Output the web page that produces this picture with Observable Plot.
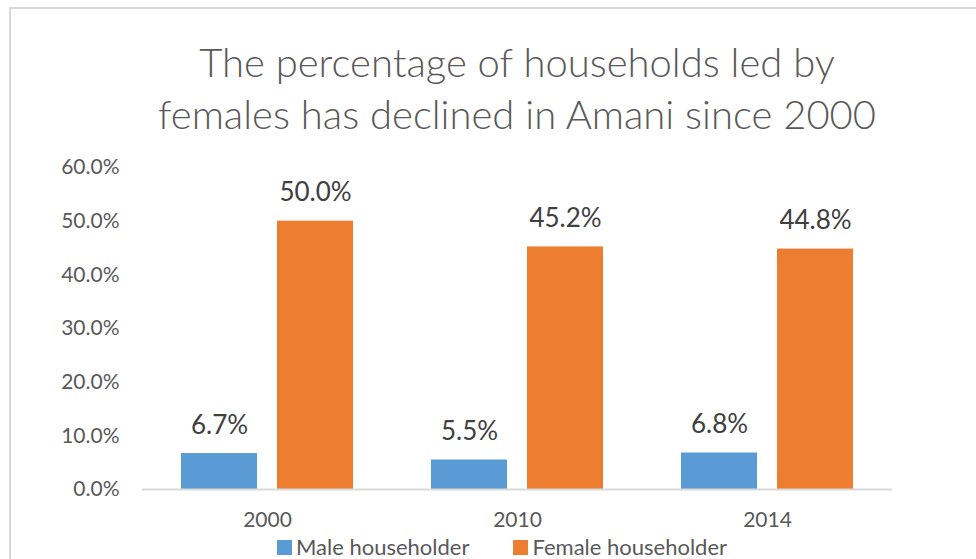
<!DOCTYPE html>
<html>
<head>
<meta charset="utf-8">
<script src="https://cdn.jsdelivr.net/npm/d3@7"></script>
<script src="https://cdn.jsdelivr.net/npm/@observablehq/plot@0.6"></script>
<style>
  html, body { margin: 0; padding: 0; background: #fff; }
  #wrap { position: relative; width: 976px; height: 559px; overflow: hidden; font-family: Lato, "Open Sans", sans-serif; }
  #border { position: absolute; left: 9px; top: 7px; width: 1100px; height: 700px; border: 2px solid #d9d9d9; box-sizing: border-box; }
  #title { position: absolute; left: 0; top: 36px; width: 1034px; text-align: center; font-size: 40px; font-weight: 300; line-height: 52px; color: #595959; white-space: nowrap; }
  #chart { position: absolute; left: 0; top: 140px; }
  #legend { position: absolute; left: 0; top: 535px; width: 1004px; display: flex; justify-content: center; gap: 44px; font-size: 22px; color: #595959; line-height: 24px; }
  .item { display: flex; align-items: center; gap: 4px; }
  .sw { width: 15px; height: 15px; display: inline-block; }
</style>
</head>
<body>
<div id="wrap">
  <div id="border"></div>
  <div id="title">The percentage of households led by<br>females has declined in Amani since 2000</div>
  <div id="chart"></div>
  <div id="legend"></div>
</div>
<script>
const years = ["2000", "2010", "2014"];
const series = ["Male householder", "Female householder"];
const colors = ["#5B9BD5", "#ED7D31"];
const maleValues = [0.067, 0.055, 0.068];
const femaleValues = [0.500, 0.452, 0.448];
const yTicks = [0, 0.1, 0.2, 0.3, 0.4, 0.5, 0.6];

const data = [];
years.forEach((yr, i) => {
  data.push({year: yr, sex: series[0], value: maleValues[i]});
  data.push({year: yr, sex: series[1], value: femaleValues[i]});
});

const fmt = d3.format(".1%");

const chart = Plot.plot({
  width: 976,
  height: 400,
  marginLeft: 142,
  marginRight: 84,
  marginTop: 27,
  marginBottom: 51,
  style: {fontFamily: "Lato, 'Open Sans', sans-serif", background: "transparent"},
  fx: {domain: years, padding: 0, label: null, axis: null},
  x: {domain: series, paddingInner: 0.21, paddingOuter: 0.394, axis: null},
  y: {domain: [0, 0.6], label: null},
  color: {domain: series, range: colors},
  marks: [
    Plot.barY(data, {fx: "year", x: "sex", y: "value", fill: "sex"}),
    Plot.ruleY([0], {stroke: "#d9d9d9", strokeWidth: 2}),
    Plot.text(data, {fx: "year", x: "sex", y: "value", text: d => fmt(d.value), dy: -28, fontSize: 26, fill: "#404040"}),
    Plot.axisY({ticks: yTicks, tickFormat: ".1%", tickSize: 0, tickPadding: 23, fontSize: 21, color: "#595959", label: null}),
    Plot.axisFx({anchor: "bottom", tickSize: 0, tickPadding: 23, fontSize: 21, color: "#595959", label: null})
  ]
});
document.getElementById("chart").appendChild(chart);

const legend = document.getElementById("legend");
series.forEach((s, i) => {
  const item = document.createElement("div");
  item.className = "item";
  const sw = document.createElement("span");
  sw.className = "sw";
  sw.style.background = colors[i];
  const t = document.createElement("span");
  t.textContent = s;
  item.appendChild(sw);
  item.appendChild(t);
  legend.appendChild(item);
});
</script>
</body>
</html>
